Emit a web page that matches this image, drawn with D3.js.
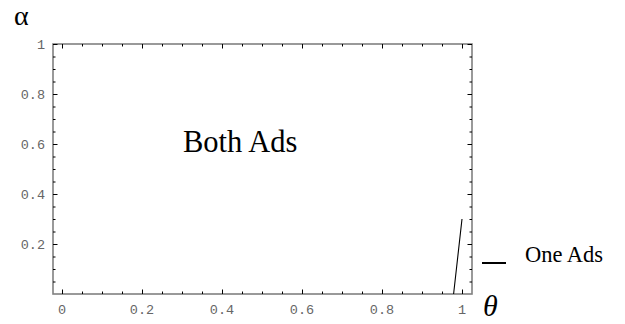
<!DOCTYPE html>
<html><head><meta charset="utf-8">
<script src="https://cdn.jsdelivr.net/npm/d3@7"></script>
<style>body{margin:0;background:#fff}svg{display:block}</style>
</head><body>
<svg id="c" width="625" height="324"></svg>
<script>
// data
const thetaVals = [0.979, 0.986, 0.993, 1.0];
const alphaVals = [0.0, 0.1, 0.2, 0.3];
const xTickLabels = [0, 0.2, 0.4, 0.6, 0.8, 1];
const yTickLabels = [0.2, 0.4, 0.6, 0.8, 1];
const regionLabels = ["Both Ads"];
const legendLabels = ["One Ads"];

const svg = d3.select("#c");
const L = 53, R = 472, T = 44, B = 294;
const x = d3.scaleLinear().domain([-0.0225, 1.025]).range([L, R]);
const y = d3.scaleLinear().domain([0, 1]).range([B, T]);

const minorX = d3.range(0, 1.0001, 0.05).filter(v => !xTickLabels.some(t => Math.abs(t - v) < 1e-6));
const minorY = d3.range(0.05, 1.0001, 0.05).filter(v => !yTickLabels.some(t => Math.abs(t - v) < 1e-6));

// frame
svg.append("rect").attr("x", L).attr("y", T).attr("width", R - L).attr("height", B - T)
  .attr("fill", "none").attr("stroke", "#808080").attr("stroke-width", 1.6);

function drawTicks(axisGen, tr, vals, size) {
  const g = svg.append("g").attr("transform", tr)
    .call(axisGen.tickValues(vals).tickSize(size).tickFormat(""));
  g.select(".domain").remove();
  g.selectAll(".tick line").attr("stroke", "#000").attr("stroke-width", 1);
  return g;
}
drawTicks(d3.axisBottom(x), `translate(0,${B})`, xTickLabels, -4.5);
drawTicks(d3.axisBottom(x), `translate(0,${B})`, minorX, -2.5);
drawTicks(d3.axisTop(x), `translate(0,${T})`, xTickLabels, -4.5);
drawTicks(d3.axisTop(x), `translate(0,${T})`, minorX, -2.5);
drawTicks(d3.axisLeft(y), `translate(${L},0)`, yTickLabels, -4.5);
drawTicks(d3.axisLeft(y), `translate(${L},0)`, minorY, -2.5);
drawTicks(d3.axisRight(y), `translate(${R},0)`, yTickLabels, -4.5);
drawTicks(d3.axisRight(y), `translate(${R},0)`, minorY, -2.5);

// tick labels
const fmt = v => (v === 0 || v === 1) ? String(v) : v.toFixed(1);
const monoFont = "Liberation Mono, DejaVu Sans Mono, monospace";
svg.append("g").selectAll("text").data(xTickLabels).join("text")
  .attr("x", d => x(d)).attr("y", 314).attr("text-anchor", "middle")
  .attr("font-family", monoFont).attr("font-size", 13.5)
  .attr("fill", "#666").text(fmt);
svg.append("g").selectAll("text").data(yTickLabels).join("text")
  .attr("x", 45).attr("y", d => y(d)).attr("dy", "0.35em").attr("text-anchor", "end")
  .attr("font-family", monoFont).attr("font-size", 13.5)
  .attr("fill", "#666").text(fmt);

// curve
const line = d3.line().x((d, i) => x(thetaVals[i])).y((d, i) => y(alphaVals[i]));
svg.append("path").datum(thetaVals).attr("d", line)
  .attr("fill", "none").attr("stroke", "#000").attr("stroke-width", 1.1);

// region label
const serif = "Liberation Serif, Times New Roman, serif";
svg.append("text").attr("x", 183).attr("y", 152)
  .attr("font-family", serif).attr("font-size", 30.5)
  .attr("fill", "#000").text(regionLabels[0]);

// axis titles
svg.append("text").attr("x", 14).attr("y", 25)
  .attr("font-family", serif).attr("font-size", 28)
  .attr("fill", "#000").text("α");
svg.append("text").attr("x", 483).attr("y", 316)
  .attr("font-family", serif).attr("font-style", "italic")
  .attr("font-size", 30).attr("fill", "#000").text("θ");

// legend
svg.append("line").attr("x1", 482).attr("x2", 506).attr("y1", 263).attr("y2", 263)
  .attr("stroke", "#000").attr("stroke-width", 2);
svg.append("text").attr("x", 525).attr("y", 262)
  .attr("font-family", serif).attr("font-size", 22.5)
  .attr("fill", "#000").text(legendLabels[0]);
</script>
</body></html>
